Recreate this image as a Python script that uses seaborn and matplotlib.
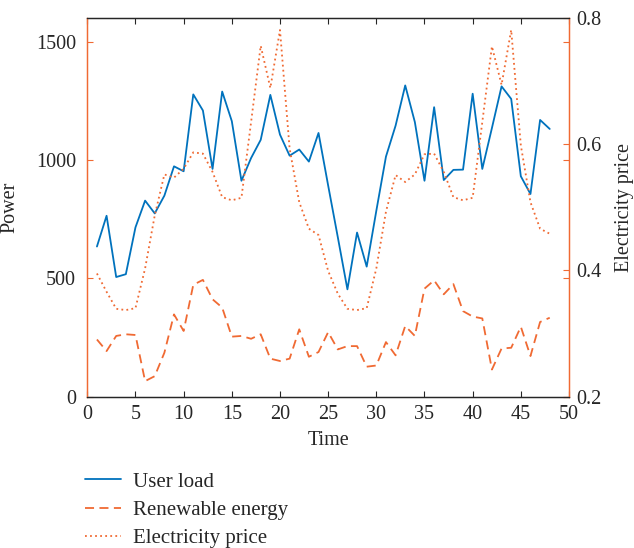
import numpy as np
import pandas as pd
import matplotlib
matplotlib.use("Agg")
import matplotlib.pyplot as plt
import seaborn as sns

time = list(range(1, 49))
user_load = [634, 764, 505, 517, 715, 828, 774, 849, 973, 952, 1277, 1209,
             962, 1289, 1164, 912, 1008, 1085, 1275, 1107, 1018, 1044, 993, 1114,
             892, 674, 453, 693, 549, 785, 1014, 1145, 1315, 1160, 912, 1223,
             915, 958, 959, 1280, 962, 1135, 1311, 1258, 931, 856, 1169, 1131]
renewable = [241, 192, 256, 263, 260, 65, 86, 185, 347, 277, 472, 493,
             411, 376, 253, 256, 244, 263, 160, 150, 160, 284, 168, 188,
             272, 199, 213, 213, 126, 131, 230, 174, 298, 256, 456, 491,
             432, 475, 361, 338, 330, 114, 203, 206, 295, 171, 315, 333]
price = [0.395, 0.366, 0.339, 0.337, 0.340, 0.403, 0.487, 0.552, 0.547, 0.561, 0.587, 0.585,
         0.556, 0.516, 0.511, 0.515, 0.635, 0.756, 0.689, 0.781, 0.593, 0.508, 0.466, 0.456,
         0.399, 0.363, 0.339, 0.337, 0.340, 0.403, 0.493, 0.551, 0.540, 0.552, 0.584, 0.585,
         0.556, 0.516, 0.511, 0.515, 0.635, 0.755, 0.694, 0.781, 0.598, 0.508, 0.466, 0.458]
x_ticks = [0, 5, 10, 15, 20, 25, 30, 35, 40, 45, 50]
left_ticks = [0, 500, 1000, 1500]
right_ticks = [0.2, 0.4, 0.6, 0.8]
labels = ["User load", "Renewable energy", "Electricity price"]

sns.set_style("ticks")
plt.rcParams["font.family"] = ["Liberation Serif", "DejaVu Serif"]
plt.rcParams["mathtext.fontset"] = "stix"

BLUE = "#0072BD"
ORANGE = "#F06A33"
DARK = "#262626"

W, H = 634, 548
fig = plt.figure(figsize=(W / 100, H / 100), dpi=100)
ax = fig.add_axes([87.3 / W, 1 - 396.5 / H, (569 - 87.3) / W, (396.5 - 18) / H])

df = pd.DataFrame({"t": time, "load": user_load, "ren": renewable, "price": price})

sns.lineplot(data=df, x="t", y="load", ax=ax, color=BLUE, lw=1.3, legend=False)
sns.lineplot(data=df, x="t", y="ren", ax=ax, color=ORANGE, lw=1.3,
             linestyle=(0, (5, 3)), legend=False)
ax2 = ax.twinx()
sns.lineplot(data=df, x="t", y="price", ax=ax2, color=ORANGE, lw=1.3,
             linestyle=(0, (1, 1.8)), legend=False)

ax.set_xlim(0, 50)
ax.set_ylim(0, 1600)
ax2.set_ylim(0.2, 0.8)
ax.set_xticks(x_ticks)
ax.set_xticklabels([str(v) for v in x_ticks])
ax.set_yticks(left_ticks)
ax.set_yticklabels([str(v) for v in left_ticks])
ax2.set_yticks(right_ticks)
ax2.set_yticklabels([f"{v:.1f}" for v in right_ticks])

fs = 14.5
ax.tick_params(axis="x", direction="in", top=True, bottom=True, length=4,
               width=0.8, color=DARK, labelcolor=DARK, labelsize=fs, pad=6)
ax.tick_params(axis="y", direction="in", left=True, right=True, length=4,
               width=0.8, color=ORANGE, labelcolor=DARK, labelsize=fs, pad=8)
ax2.tick_params(axis="y", direction="in", right=True, length=4, width=0.8,
                color=ORANGE, labelcolor=DARK, labelsize=fs, pad=5)

for a in (ax, ax2):
    for s in ("top", "bottom", "left", "right"):
        a.spines[s].set_visible(True)
        a.spines[s].set_linewidth(0.9)
    a.spines["top"].set_color(DARK)
    a.spines["bottom"].set_color(DARK)
    a.spines["left"].set_color(ORANGE)
    a.spines["right"].set_color(ORANGE)

ax.set_xlabel("Time", fontsize=fs, color=DARK, labelpad=5)
ax.set_ylabel("Power", fontsize=fs, color=DARK, labelpad=12)
ax2.set_ylabel("Electricity price", fontsize=fs, color=DARK, labelpad=10)

handles = [ax.lines[0], ax.lines[1], ax2.lines[0]]
fig.legend(handles, labels, loc="upper left",
           bbox_to_anchor=(85 / W, 1 - 472 / H), frameon=False,
           fontsize=15, handlelength=1.75, handletextpad=0.55,
           labelspacing=0.42, borderpad=0, borderaxespad=0,
           labelcolor=DARK)

fig.savefig("out.png", dpi=100)
